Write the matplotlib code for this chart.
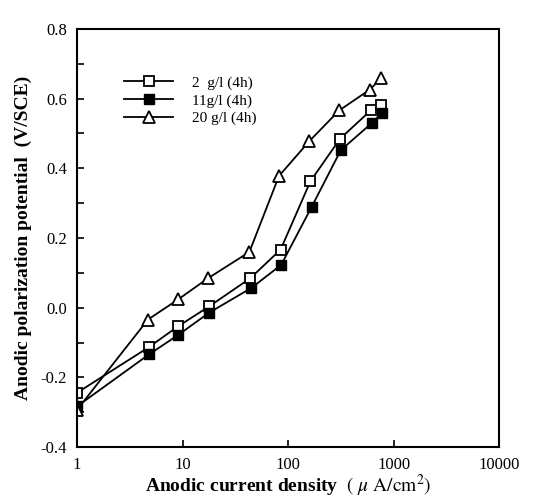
import matplotlib
matplotlib.use("Agg")
import matplotlib.pyplot as plt
from matplotlib.ticker import MultipleLocator, FixedLocator, FixedFormatter

plt.rcParams['font.family'] = ['Liberation Serif', 'DejaVu Serif']
plt.rcParams['mathtext.fontset'] = 'stix'

# current density (uA/cm2) and potential (V/SCE)
x_2g = [1, 4.8, 9.1, 17.9, 44, 85, 163, 311, 617, 766]
y_2g = [-0.244, -0.113, -0.053, 0.004, 0.085, 0.167, 0.363, 0.485, 0.568, 0.581]

x_11g = [1, 4.8, 9.1, 17.9, 45, 86, 167, 316, 627, 780]
y_11g = [-0.283, -0.134, -0.078, -0.014, 0.057, 0.123, 0.289, 0.452, 0.531, 0.559]

x_20g = [1, 4.7, 9.1, 17.5, 43, 82, 159, 305, 596, 766]
y_20g = [-0.293, -0.034, 0.024, 0.085, 0.16, 0.378, 0.478, 0.566, 0.626, 0.659]

labels = ['2  g/l (4h)', '11g/l (4h)', '20 g/l (4h)']
x_ticks = [1, 10, 100, 1000, 10000]
x_ticklabels = ['1', '10', '100', '1000', '10000']

fig = plt.figure(figsize=(5.42, 4.98), dpi=100)
ax = fig.add_axes([0.142, 0.102, 0.779, 0.840])

ax.plot(x_2g, y_2g, color='black', lw=1.3, marker='s', ms=7,
        mfc='white', mec='black', mew=1.3, label=labels[0])
ax.plot(x_11g, y_11g, color='black', lw=1.3, marker='s', ms=7,
        mfc='black', mec='black', label=labels[1])
ax.plot(x_20g, y_20g, color='black', lw=1.3, marker='^', ms=8,
        mfc='white', mec='black', mew=1.3, label=labels[2])

ax.set_xscale('log')
ax.set_xlim(1, 10000)
ax.set_ylim(-0.4, 0.8)

ax.xaxis.set_major_locator(FixedLocator(x_ticks))
ax.xaxis.set_major_formatter(FixedFormatter(x_ticklabels))
ax.xaxis.set_minor_locator(FixedLocator([]))
ax.yaxis.set_major_locator(MultipleLocator(0.2))
ax.yaxis.set_minor_locator(MultipleLocator(0.1))
ax.yaxis.set_major_formatter(plt.FuncFormatter(lambda v, p: '%.1f' % v))

ax.tick_params(which='both', direction='in', top=False, right=False,
               labelsize=12, width=1.2)
ax.tick_params(which='major', length=5, pad=7)
ax.tick_params(which='minor', length=5)
for s in ax.spines.values():
    s.set_linewidth(1.5)

ax.set_ylabel('Anodic polarization potential  (V/SCE)', fontsize=14,
              fontweight='bold', labelpad=6)
ax.set_xlabel(r'Anodic current density  $(\ \mu\ \mathrm{A/cm^2})$',
              fontsize=14, fontweight='bold', labelpad=0)

ax.legend(loc='upper left', bbox_to_anchor=(0.08, 0.92), frameon=False,
          fontsize=11, handlelength=3.2, labelspacing=0.25, handletextpad=1.2)

fig.savefig('out.png', dpi=100)
